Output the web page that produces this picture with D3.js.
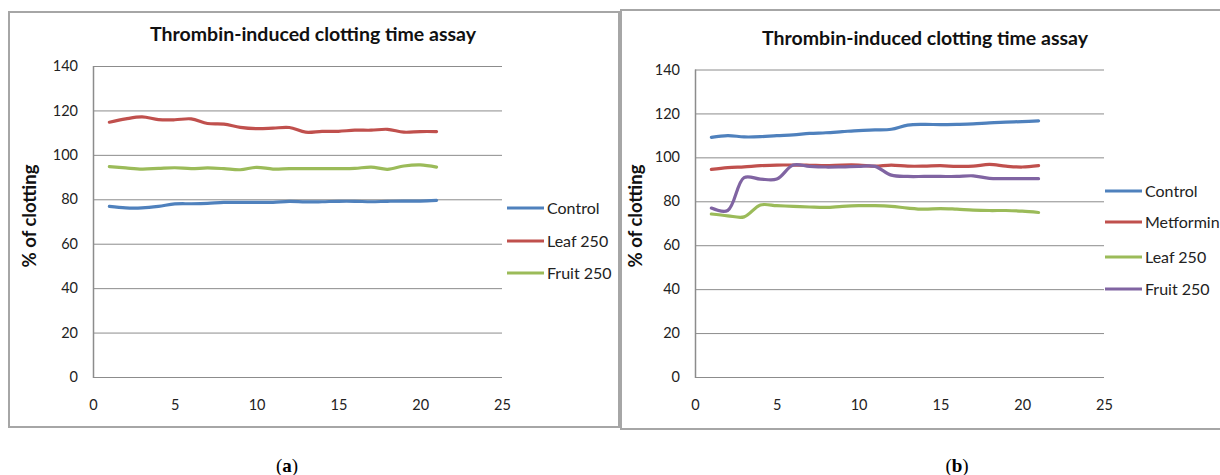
<!DOCTYPE html>
<html>
<head>
<meta charset="utf-8">
<script src="https://cdn.jsdelivr.net/npm/d3@7"></script>
<style>
  body { margin: 0; background: #fff; }
  svg { display: block; }
</style>
</head>
<body>
<script>
// x values: 1..21 readings
var days = d3.range(1, 22);

// panel (a)
var controlA = [76.8,76.1,76.1,76.8,77.9,78.0,78.2,78.6,78.6,78.6,78.6,79.1,78.8,78.9,79.1,79.1,78.9,79.1,79.2,79.2,79.5];
var leafA    = [114.7,116.2,117.1,115.9,115.8,116.2,114.1,113.8,112.4,111.8,112.0,112.3,110.2,110.6,110.6,111.1,111.1,111.5,110.2,110.5,110.5];
var fruitA   = [94.7,94.1,93.6,93.9,94.2,93.8,94.1,93.8,93.3,94.4,93.6,93.8,93.8,93.8,93.8,93.9,94.5,93.5,95.0,95.5,94.5];

// panel (b)
var controlB   = [109.1,109.9,109.3,109.4,109.9,110.2,110.9,111.2,111.7,112.2,112.5,112.8,114.7,115.0,114.9,115.0,115.2,115.7,116.0,116.3,116.6];
var metforminB = [94.5,95.3,95.7,96.2,96.5,96.5,96.4,96.2,96.5,96.5,96.0,96.5,96.0,96.0,96.2,95.9,96.0,96.8,96.0,95.6,96.2];
var leafB      = [74.2,73.4,72.9,78.3,78.0,77.7,77.4,77.2,77.7,78.0,78.0,77.7,76.9,76.4,76.7,76.4,76.0,75.8,75.8,75.5,74.9];
var fruitB     = [76.9,75.8,90.8,90.1,90.1,96.5,95.9,95.6,95.7,95.9,95.9,91.9,91.3,91.3,91.3,91.3,91.6,90.4,90.3,90.3,90.3];

var yTicks = [0,20,40,60,80,100,120,140];
var xTicks = [0,5,10,15,20,25];

var titleText = "Thrombin-induced clotting time assay";
var yLabel = "% of clotting";

// excel default series colours, by series order
var palette = ["#4F81BD", "#C0504D", "#9BBB59", "#8064A2"];

var font = "Lato, 'Liberation Sans', sans-serif";

var svg = d3.select("body").append("svg")
    .attr("width", 1220)
    .attr("height", 475);

function drawPanel(opt) {
  var g = svg.append("g");

  // chart frame
  g.append("rect")
      .attr("x", opt.frame[0]).attr("y", opt.frame[1])
      .attr("width", opt.frame[2]).attr("height", opt.frame[3])
      .attr("fill", "#fff")
      .attr("stroke", "#a6a6a6")
      .attr("stroke-width", 2);

  var x = d3.scaleLinear().domain([0, 25]).range([opt.left, opt.right]);
  var y = d3.scaleLinear().domain([0, 140]).range([opt.bottom, opt.top]);

  // gridlines
  g.append("g").selectAll("line")
    .data(yTicks)
    .join("line")
      .attr("x1", opt.left).attr("x2", opt.right)
      .attr("y1", function(d){ return y(d) + 0.5; })
      .attr("y2", function(d){ return y(d) + 0.5; })
      .attr("stroke", "#8c8c8c")
      .attr("stroke-width", 1);

  // left axis line
  g.append("line")
      .attr("x1", opt.left + 0.5).attr("x2", opt.left + 0.5)
      .attr("y1", opt.top).attr("y2", opt.bottom + 1)
      .attr("stroke", "#8c8c8c")
      .attr("stroke-width", 1.5);

  var yAxis = d3.axisLeft(y).tickValues(yTicks).tickSize(0).tickPadding(15);
  var xAxis = d3.axisBottom(x).tickValues(xTicks).tickSize(0).tickPadding(23);

  var ya = g.append("g").attr("transform", "translate(" + opt.left + ",0)").call(yAxis);
  var xa = g.append("g").attr("transform", "translate(0," + opt.bottom + ")").call(xAxis);
  [ya, xa].forEach(function(a){
    a.select(".domain").remove();
    a.selectAll("text")
      .attr("font-family", font)
      .attr("font-size", 14.5)
      .attr("fill", "#222");
  });

  // title
  g.append("text")
      .attr("x", opt.titleX).attr("y", opt.top - 25)
      .attr("text-anchor", "middle")
      .attr("font-family", font)
      .attr("font-weight", "bold")
      .attr("font-size", 19.5)
      .attr("fill", "#111")
      .text(titleText);

  // y label
  g.append("text")
      .attr("transform", "translate(" + opt.yLabelX + "," + 216 + ") rotate(-90)")
      .attr("text-anchor", "middle")
      .attr("font-family", font)
      .attr("font-weight", "bold")
      .attr("font-size", 18.5)
      .attr("fill", "#111")
      .text(yLabel);

  var line = d3.line()
      .x(function(d, i){ return x(days[i]); })
      .y(function(d){ return y(d); })
      .curve(d3.curveCatmullRom.alpha(0.5));

  g.append("g").selectAll("path")
    .data(opt.series)
    .join("path")
      .attr("d", function(s){ return line(s.values); })
      .attr("fill", "none")
      .attr("stroke", function(s, i){ return palette[i]; })
      .attr("stroke-width", 3.2)
      .attr("stroke-linejoin", "round")
      .attr("stroke-linecap", "round");

  // legend
  var lg = g.append("g").selectAll("g")
    .data(opt.series)
    .join("g")
      .attr("transform", function(s, i){ return "translate(" + opt.legendX + "," + opt.legendY[i] + ")"; });
  lg.append("line")
      .attr("x1", 0).attr("x2", 37)
      .attr("stroke", function(s, i){ return palette[i]; })
      .attr("stroke-width", 3);
  lg.append("text")
      .attr("x", 40).attr("dy", "0.35em")
      .attr("font-family", font)
      .attr("font-size", 16)
      .attr("fill", "#222")
      .text(function(s){ return s.name; });

  // caption
  var cap = svg.append("text")
      .attr("x", opt.captionX).attr("y", 472)
      .attr("text-anchor", "middle")
      .attr("font-family", "'Liberation Serif', 'Times New Roman', serif")
      .attr("font-size", 19)
      .attr("fill", "#000");
  cap.append("tspan").text("(");
  cap.append("tspan").attr("font-weight", "bold").text(opt.caption);
  cap.append("tspan").text(")");
}

drawPanel({
  frame: [9, 12, 610, 415],
  left: 93, right: 502, top: 66, bottom: 377,
  titleX: 313, yLabelX: 36,
  legendX: 507, legendY: [208, 241, 273],
  captionX: 287, caption: "a",
  series: [
    {name: "Control", values: controlA},
    {name: "Leaf 250", values: leafA},
    {name: "Fruit 250", values: fruitA}
  ]
});

drawPanel({
  frame: [621, 10, 620, 419],
  left: 695, right: 1104, top: 69.5, bottom: 377,
  titleX: 925, yLabelX: 642,
  legendX: 1105, legendY: [191, 222, 257, 289],
  captionX: 957, caption: "b",
  series: [
    {name: "Control", values: controlB},
    {name: "Metformin", values: metforminB},
    {name: "Leaf 250", values: leafB},
    {name: "Fruit 250", values: fruitB}
  ]
});
</script>
</body>
</html>
